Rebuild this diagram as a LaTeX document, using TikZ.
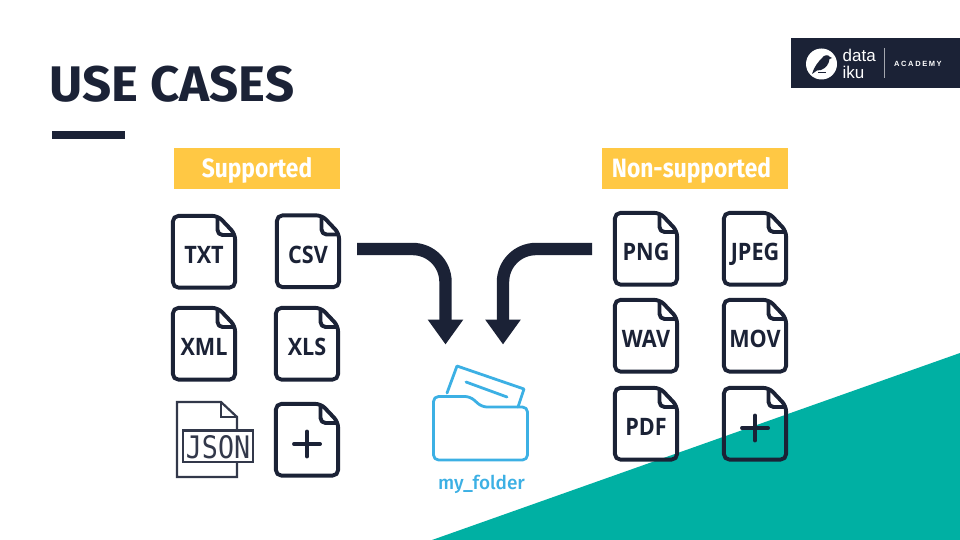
\documentclass[tikz,border=0pt]{standalone}
\usepackage{fontspec}
\usetikzlibrary{arrows.meta}
\setmainfont{Open Sans}
\newfontfamily\titlefont[FakeStretch=1.02]{Fira Sans Bold}
\newfontfamily\iconfont[FakeStretch=0.9]{Open Sans Bold}
\newfontfamily\tagfont[FakeStretch=0.86]{Fira Sans Bold}
\newfontfamily\jsonfont[FakeStretch=0.86]{DejaVu Sans Mono}
\newfontfamily\folderfont{Fira Sans Medium}
\newfontfamily\logofont{Liberation Sans}
\newfontfamily\logoboldfont{Liberation Sans Bold}
\definecolor{navy}{HTML}{1B2236}
\definecolor{teal}{HTML}{00B0A3}
\definecolor{sun}{HTML}{FFC844}
\definecolor{sky}{HTML}{3CB0E4}
\tikzset{
  x=1pt,y=-1pt,
  fileline/.style={draw=navy,line width=3.9pt,line join=round},
  filelabel/.style={text=navy,font=\iconfont\fontsize{24}{24}\selectfont,inner sep=0pt,anchor=base},
  taglabel/.style={inner sep=0pt,anchor=base,text=white,font=\tagfont\fontsize{26.5}{26.5}\selectfont},
  bigarrow/.style={draw=navy,line width=12.4pt,rounded corners=33pt,-{Triangle[width=34pt,length=25pt]}},
  folderline/.style={draw=sky,line width=2.8pt,line join=round,line cap=round},
  thinline/.style={draw=navy!90!white,line width=2.2pt},
  fileicon/.pic={
    \draw[fileline,rounded corners=5.5pt] (1.9,38) -- (1.9,1.9) -- (47,1.9) -- (64.1,20) -- (64.1,73.6) -- (1.9,73.6) -- cycle;
    \draw[fileline,rounded corners=5pt] (46.5,2) -- (46.5,21) -- (64,21);
    \node[filelabel] (-label) at (33,49.5) {#1};
  },
  plusicon/.pic={
    \draw[fileline,rounded corners=5.5pt] (1.9,38) -- (1.9,1.9) -- (47,1.9) -- (64.1,20) -- (64.1,73.6) -- (1.9,73.6) -- cycle;
    \draw[fileline,rounded corners=5pt] (46.5,2) -- (46.5,21) -- (64,21);
    \draw[fileline,line cap=round] (20,42) -- (46,42) (33,29.5) -- (33,54.5);
  }
}
\begin{document}
\begin{tikzpicture}
\useasboundingbox (0,0) rectangle (960,540);
\fill[white] (0,0) rectangle (960,540);
\fill[teal] (432,540) -- (960,353) -- (960,540) -- cycle;

% title
\node[anchor=base west,inner sep=0pt,text=navy,font=\titlefont\fontsize{50}{50}\selectfont] (title) at (49,102) {USE CASES};
\fill[navy] (52,131) rectangle (125,139);

% logo
\fill[navy] (790.5,38) rectangle (960,88);
\fill[white] (821.5,64) circle[radius=15.5];
\fill[navy] (812,74) .. controls (814,67) and (818,62) .. (822,58) .. controls (824,55) and (828,54) .. (830,57) -- (832,58) -- (829.5,59) .. controls (829,64) and (826,68) .. (821,70) -- (817,70.5) -- cycle;
\draw[navy,line width=1pt] (818,72.5) -- (826,72.5);
\node[anchor=base west,inner sep=0pt,text=white,font=\logofont\fontsize{17}{17}\selectfont] (logodata) at (842.5,62) {data};
\node[anchor=base west,inner sep=0pt,text=white,font=\logofont\fontsize{17}{17}\selectfont] (logoiku) at (842.5,79) {iku};
\draw[white!60!navy,line width=0.9pt] (884,48) -- (884,78);
\node[anchor=west,inner sep=0pt,text=white,font=\logoboldfont\fontsize{7.5}{7.5}\selectfont] (logoacademy) at (894,64) {A\kern1.6pt C\kern1.6pt A\kern1.6pt D\kern1.6pt E\kern1.6pt M\kern1.6pt Y};

% tags
\fill[sun] (174,148) rectangle (340,189);
\fill[sun] (602,148) rectangle (788,189);
\node[taglabel] (supported) at (257,178) {Supported};
\node[taglabel] (nonsupported) at (691.5,178) {Non-supported};

% supported files
\pic (txt) at (171,214) {fileicon=TXT};
\pic (csv) at (275,213.5) {fileicon=CSV};
\pic (xml) at (171,306) {fileicon=XML};
\pic (xls) at (274,306) {fileicon=XLS};
\pic (plusa) at (274,402) {plusicon};

% JSON file
\draw[thinline,line join=miter] (237,431) -- (237,417) -- (221,402) -- (177,402) -- (177,477) -- (237,477) -- (237,462);
\draw[thinline] (221,402) -- (221,417) -- (237,417);
\draw[thinline,fill=white] (183,430.5) rectangle (253,462);
\node[anchor=base,inner sep=0pt,text=navy!90!white,font=\jsonfont\fontsize{31}{31}\selectfont] (json) at (218,458) {JSON};

% non supported files
\pic (png) at (613,211) {fileicon=PNG};
\pic (jpeg) at (722,211) {fileicon=JPEG};
\pic (wav) at (613,298) {fileicon=WAV};
\pic (mov) at (722,298) {fileicon=MOV};
\pic (pdf) at (613,386) {fileicon=PDF};
\pic (plusb) at (722,386) {plusicon};

% arrows
\coordinate (leftstart) at (357,249);
\coordinate (lefttip) at (445.5,344.5);
\coordinate (rightstart) at (592,249);
\coordinate (righttip) at (503,344.5);
\draw[bigarrow] (leftstart) -| (lefttip);
\draw[bigarrow] (rightstart) -| (righttip);

% folder
\draw[folderline,fill=white] (447,393) -- (457,366) -- (524,389) -- (518,407);
\draw[folderline] (466,382) -- (507,397);
\draw[folderline,rounded corners=5pt] (433.5,420) -- (433.5,396.5) -- (470,396.5) -- (482,407) -- (527.5,407) -- (527.5,460) -- (433.5,460) -- cycle;
\node[anchor=base,inner sep=0pt,text=sky,font=\folderfont\fontsize{19}{19}\selectfont] (folderlabel) at (481.5,489) {my\_folder};
\end{tikzpicture}
\end{document}
